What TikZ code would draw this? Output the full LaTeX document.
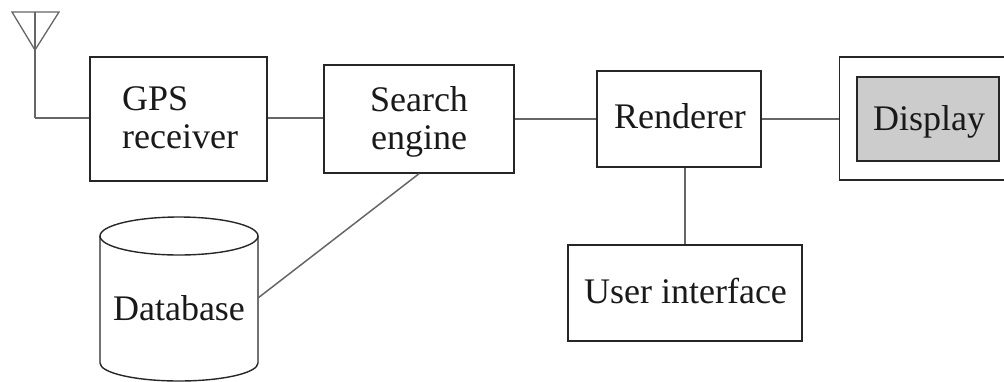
\documentclass[tikz,border=0pt]{standalone}
\usepackage{fontspec}
\setmainfont{Liberation Serif}
\begin{document}
\begin{tikzpicture}[x=1pt,y=-1pt,
  box/.style={draw=black!85, line width=1.4pt, inner sep=0pt},
  wire/.style={draw=black!60, line width=1.5pt},
  lbl/.style={inner sep=0pt, font=\fontsize{36}{38}\selectfont, text=black!90}]
\useasboundingbox (0,0) rectangle (1004,381);
\clip (0,0) rectangle (1004,381);
% antenna
\coordinate (atop) at (35,12);
\coordinate (aapex) at (35,50);
\coordinate (abend) at (35,118);
\draw[wire, line width=1.3pt, line join=miter] (12,12) -- (59,12) -- (aapex) -- cycle;
\draw[wire] (atop) -- (abend);
% boxes
\node[box, minimum width=177pt, minimum height=124pt] (gps) at (178.5,119) {};
\node[box, minimum width=190pt, minimum height=108pt] (search) at (419,119) {};
\node[box, minimum width=164pt, minimum height=96pt] (rend) at (679,119) {};
\node[box, minimum width=234pt, minimum height=96pt] (ui) at (685,293) {};
\node[box, minimum width=180pt, minimum height=123pt, anchor=west] (dispout) at (839,118.5) {};
\node[box, fill=black!20, minimum width=142pt, minimum height=84pt] (disp) at (928,119) {};
% texts
\node[lbl, anchor=base west] (t1) at (122,110) {GPS};
\node[lbl, anchor=base west] (t2) at (122,148) {receiver};
\node[lbl, anchor=base] (t3) at (419,111) {Search};
\node[lbl, anchor=base] (t4) at (419,149) {engine};
\node[lbl, anchor=base] (t5) at (680,128) {Renderer};
\node[lbl, anchor=base] (t6) at (929,130) {Display};
\node[lbl, anchor=base] (t7) at (685.5,303) {User interface};
\node[lbl, anchor=base] (t8) at (179,320) {Database};
% database cylinder
\draw[black!85, line width=1.4pt] (179,236) ellipse [x radius=79pt, y radius=19pt];
\draw[black!85, line width=1.4pt] (100,236) -- (100,363)
  .. controls (100,372.9) and (135.4,381) .. (179,381)
  .. controls (222.6,381) and (258,372.9) .. (258,363) -- (258,236);
\coordinate (dbr) at (258,298);
% connectors
\draw[wire] (abend) -- (abend -| gps.west);
\draw[wire] (gps.east |- 0,118) -- (search.west |- 0,118);
\draw[wire] (search.east) -- (rend.west);
\draw[wire] (rend.east) -- (rend.east -| dispout.west);
\draw[wire] (rend.south -| ui.north) -- (ui.north);
\draw[wire] (search.south) -- (dbr);
\end{tikzpicture}
\end{document}
